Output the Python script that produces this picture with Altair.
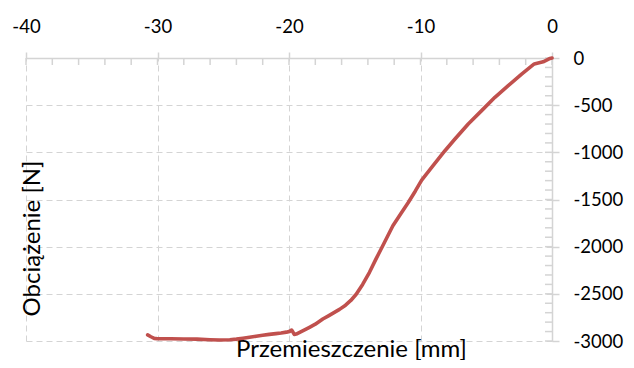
import altair as alt
import pandas as pd

# Displacement [mm] and load [N]
disp = [-30.75, -30.5, -30.25, -30.0, -29.0, -28.0, -27.0, -26.0, -25.3, -24.5,
        -24.0, -23.5, -23.0, -22.5, -22.0, -21.5, -21.0, -20.6, -20.2, -19.95,
        -19.8, -19.7, -19.6, -19.45, -19.0, -18.44, -18.0, -17.43, -17.0, -16.16,
        -15.7, -15.3, -14.89, -14.4, -13.88, -13.4, -12.87, -12.1, -11.5, -10.93,
        -10.4, -9.91, -9.15, -8.14, -7.38, -6.37, -5.35, -4.34, -3.33, -2.31,
        -1.68, -1.35, -1.05, -0.67, -0.15, 0.0]
load = [-2935, -2955, -2972, -2976, -2976, -2978, -2980, -2986, -2990, -2987,
        -2980, -2970, -2960, -2950, -2940, -2930, -2922, -2915, -2906, -2898,
        -2885, -2905, -2930, -2926, -2895, -2855, -2822, -2767, -2733, -2665,
        -2620, -2570, -2505, -2400, -2272, -2135, -1990, -1778, -1650, -1532,
        -1412, -1295, -1160, -983, -859, -700, -558, -417, -293, -170,
        -99, -63, -53, -40, -5, 0]

x_major = [-40, -30, -20, -10, 0]
x_minor = [-40, -38, -36, -34, -32, -30, -28, -26, -24, -22, -20, -18, -16,
           -14, -12, -10, -8, -6, -4, -2, 0]
y_major = [0, -500, -1000, -1500, -2000, -2500, -3000]
y_minor = [0, -100, -200, -300, -400, -500, -600, -700, -800, -900, -1000,
           -1100, -1200, -1300, -1400, -1500, -1600, -1700, -1800, -1900, -2000,
           -2100, -2200, -2300, -2400, -2500, -2600, -2700, -2800, -2900, -3000]

FONT = "Lato"
GRAY = "#d4d4d4"
df = pd.DataFrame({"x": disp, "y": load, "i": list(range(len(disp)))})

xscale = alt.Scale(domain=[-40, 0], nice=False, zero=False)
yscale = alt.Scale(domain=[-3000, 0], nice=False, zero=False)

x_axis = alt.Axis(
    orient="top", values=x_major, labelExpr="'' + datum.value",
    grid=True, gridDash=[6, 4], gridColor=GRAY, gridWidth=1,
    domainColor=GRAY, domainWidth=1.5, tickColor=GRAY, tickWidth=1.5, tickSize=6,
    labelPadding=16, labelFont=FONT, labelFontSize=18.5, labelColor="#000000",
    labelFlush=False, labelOverlap=False,
    title="Przemieszczenie [mm]", titleX=325, titleY=298, titleAlign="center",
    titleBaseline="alphabetic", titleFont=FONT, titleFontSize=24,
    titleFontWeight="normal", titleColor="#000000",
)
y_axis = alt.Axis(
    orient="right", values=y_major, labelExpr="'' + datum.value",
    grid=True, gridDash=[6, 4], gridColor=GRAY, gridWidth=1,
    domainColor=GRAY, domainWidth=1.5, tickColor=GRAY, tickWidth=1.5, tickSize=7,
    labelPadding=14, labelFont=FONT, labelFontSize=18.5, labelColor="#000000",
    labelAlign="left", labelBaseline="middle", labelFlush=False, labelOverlap=False,
    title="Obciążenie [N]", titleAngle=270, titleX=-520, titleY=180,
    titleAlign="center", titleBaseline="middle", titleFont=FONT, titleFontSize=24,
    titleFontWeight="normal", titleColor="#000000",
)

line = alt.Chart(df).mark_line(
    color="#C0504D", strokeWidth=3.6, strokeCap="round", strokeJoin="round"
).encode(
    x=alt.X("x:Q", scale=xscale, axis=x_axis),
    y=alt.Y("y:Q", scale=yscale, axis=y_axis),
    order="i:Q",
)

xticks = alt.Chart(pd.DataFrame({"v": x_minor})).mark_tick(
    orient="vertical", size=7, thickness=1.5, color=GRAY, yOffset=3.5, opacity=1
).encode(
    x=alt.X("v:Q", scale=xscale, axis=x_axis),
    y=alt.datum(0, scale=yscale, axis=y_axis),
)

yticks = alt.Chart(pd.DataFrame({"v": y_minor})).mark_tick(
    orient="horizontal", size=7, thickness=1.5, color=GRAY, xOffset=-3.5, opacity=1
).encode(
    y=alt.Y("v:Q", scale=yscale, axis=y_axis),
    x=alt.datum(0, scale=xscale, axis=x_axis),
)

chart = alt.layer(xticks, yticks, line).properties(
    width=526, height=283,
    autosize=alt.AutoSizeParams(type="none"),
    padding={"left": 18, "top": 50, "right": 74, "bottom": 19},
    background="white",
).configure_view(stroke=None)

chart.save("out.html", embed_options={"renderer": "svg", "actions": False})
